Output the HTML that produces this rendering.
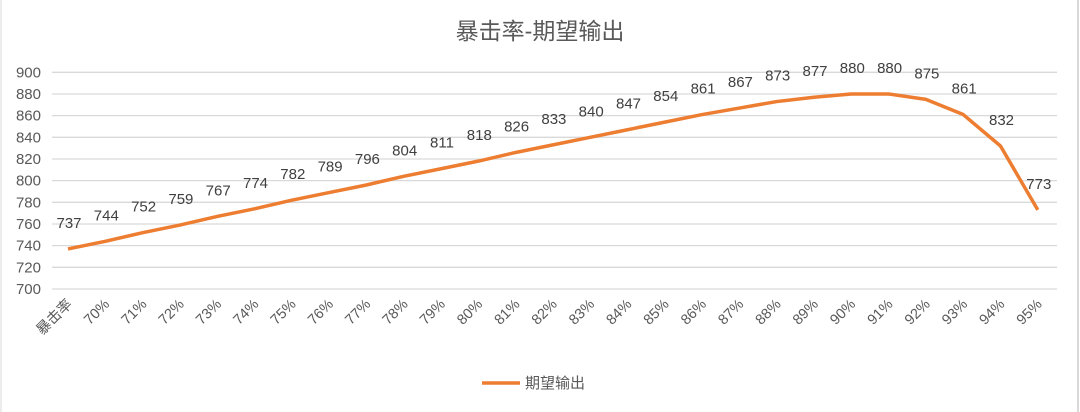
<!DOCTYPE html>
<html><head><meta charset="utf-8"><style>
body{margin:0;background:#fff}
svg{display:block;font-family:"Liberation Sans","Noto Sans CJK SC",sans-serif}
</style></head><body>
<svg width="1080" height="412" viewBox="0 0 1080 412">
<rect x="0" y="0" width="1080" height="412" fill="#fff"/>
<line x1="1078" y1="0" x2="1078" y2="412" stroke="#d9d9d9" stroke-width="2"/>
<line x1="1" y1="0" x2="1" y2="412" stroke="#d9d9d9" stroke-width="1"/>
<text x="540" y="39" text-anchor="middle" font-size="23" fill="#595959">暴击率-期望输出</text>
<g id="grid" stroke="#d9d9d9" stroke-width="1.3"></g>
<g id="ylab" font-size="15" fill="#595959" text-anchor="end"></g>
<polyline id="ln" fill="none" stroke="#ed7d31" stroke-width="3.5" stroke-linejoin="round"/>
<g id="dl" font-size="15" fill="#404040" text-anchor="middle"></g>
<g id="xl" font-size="14.5" fill="#595959" text-anchor="end"></g>
<line x1="482" y1="383" x2="520" y2="383" stroke="#ed7d31" stroke-width="3.5"/>
<text x="525" y="388" font-size="15" fill="#595959">期望输出</text>
</svg>
<script>
var d=[737,744,752,759,767,774,782,789,796,804,811,818,826,833,840,847,854,861,867,873,877,880,880,875,861,832,773];
var cats=["暴击率"];for(var i=70;i<=95;i++)cats.push(i+"%");
var ns="http://www.w3.org/2000/svg";
function Y(v){return 289-(v-700)*216.7/200;}
function X(i){return 68+i*37.3;}
function el(t,a,txt,p){var e=document.createElementNS(ns,t);for(var k in a)e.setAttribute(k,a[k]);if(txt!=null)e.textContent=txt;document.getElementById(p).appendChild(e);}
for(var v=700;v<=900;v+=20){var y=Y(v);el("line",{x1:52,x2:1057,y1:y,y2:y},null,"grid");el("text",{x:41,y:y+5},v,"ylab");}
var pts=d.map(function(v,i){return X(i)+","+Y(v)}).join(" ");
document.getElementById("ln").setAttribute("points",pts);
d.forEach(function(v,i){el("text",{x:X(i)+1,y:Y(v)-21},v,"dl");});
cats.forEach(function(c,i){var x=X(i)+5,y=305;el("text",{x:x,y:y,transform:"rotate(-45 "+x+" "+y+")"},c,"xl");});
</script>
</body></html>
